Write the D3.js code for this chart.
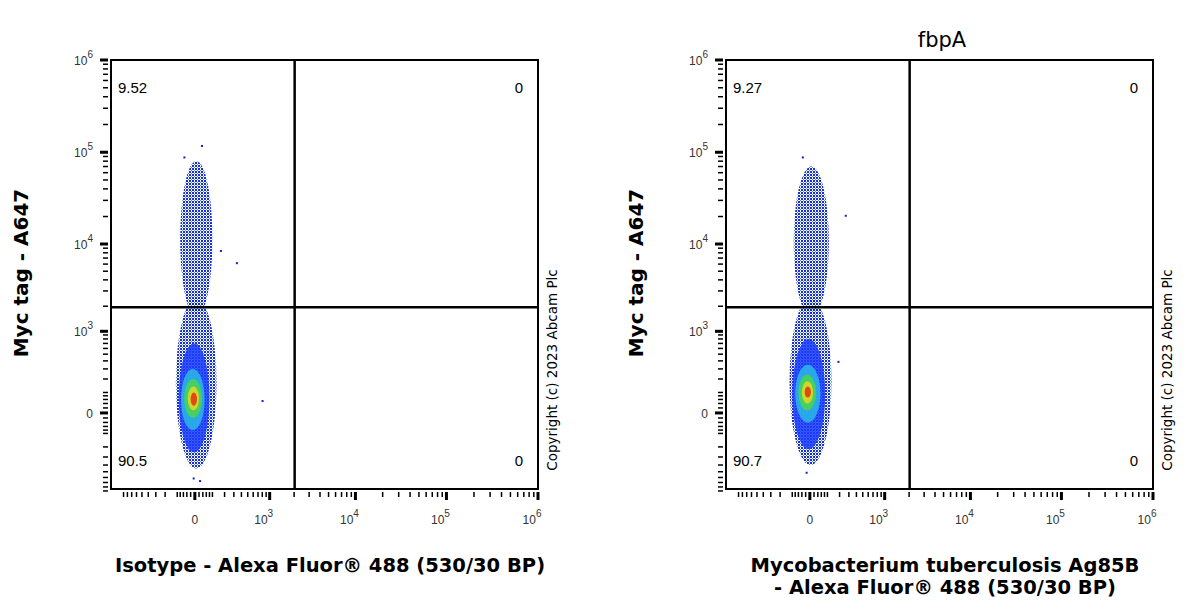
<!DOCTYPE html>
<html><head><meta charset="utf-8">
<script src="https://cdn.jsdelivr.net/npm/d3@7"></script>
<style>body{margin:0;background:#fff}text{font-family:"Liberation Sans",Arial,sans-serif}</style>
</head><body><svg id="c" width="1200" height="600"></svg>
<script>
// panel info
const titles = ['', 'fbpA']
const x_labels = [['Isotype - Alexa Fluor® 488 (530/30 BP)'],
                  ['Mycobacterium tuberculosis Ag85B', '- Alexa Fluor® 488 (530/30 BP)']]
const quad_values = [['9.52', '0', '90.5', '0'], ['9.27', '0', '90.7', '0']]
const x_gate = 2030
const y_gate = 1950
// density layers: [x_lo, x_hi, y_lo, y_hi, level]  (level 0 = sparse blue .. 5 = red)
const layers_left = [
    [-80, 100, 1500, 80000, 0],
    [-110, 130, -450, 2500, 0],
    [-90, 80, -250, 700, 1],
    [-75, 50, -80, 300, 2],
    [-55, 35, -20, 200, 3],
    [-35, 20, 10, 140, 4],
    [-20, 10, 30, 100, 5]
]
const layers_right = [
    [-90, 110, 1500, 70000, 0],
    [-120, 130, -400, 2500, 0],
    [-100, 85, -220, 800, 1],
    [-80, 55, -40, 350, 2],
    [-60, 30, 10, 240, 3],
    [-40, 15, 40, 180, 4],
    [-25, 5, 70, 140, 5]
]
const outliers_left = [[782, 57], [158, 8600], [325, 6300], [20, -650], [-10, -600], [-60, 90000], [30, 120000]]
const outliers_right = [[253, 20900], [180, 400], [-40, 90000], [-20, -500]]
const level_colors = ['url(#dots)', '#1a3cff', '#2ab8e6', '#4cd64c', '#e8d820', '#e23010']
const major_ticks = [0, 1e3, 1e4, 1e5, 1e6]

const svg = d3.select('#c')
const defs = svg.append('defs')
const pat = defs.append('pattern').attr('id', 'dots').attr('width', 3).attr('height', 3)
    .attr('patternUnits', 'userSpaceOnUse')
pat.append('rect').attr('width', 2).attr('height', 2).attr('fill', '#1020d0')
pat.append('rect').attr('x', 2).attr('y', 2).attr('width', 1).attr('height', 1).attr('fill', '#2a8af0')

const minor = []
for (let v = 100; v < 1000; v += 100) { minor.push(v, -v) }
for (let v = 20; v < 100; v += 20) { minor.push(v, -v) }
for (let d = 1e3; d < 1e6; d *= 10) for (let m = 2; m < 10; m++) minor.push(m * d)

function draw_panel(ox, p, layers, outliers) {
    const left = ox, right = ox + 427, top = 60, bottom = 489
    const x = d3.scaleSymlog().constant(180).domain([-1300, 1e6]).range([left, right])
    const y = d3.scaleSymlog().constant(150).domain([-850, 1e6]).range([bottom, top])
    const g = svg.append('g')

    g.selectAll('ellipse.l').data(layers).enter().append('ellipse')
        .attr('cx', d => (x(d[0]) + x(d[1])) / 2)
        .attr('cy', d => (y(d[2]) + y(d[3])) / 2)
        .attr('rx', d => (x(d[1]) - x(d[0])) / 2)
        .attr('ry', d => (y(d[2]) - y(d[3])) / 2)
        .attr('fill', d => level_colors[d[4]])
        .attr('opacity', d => d[4] == 0 ? 0.95 : 0.85)
    g.selectAll('rect.o').data(outliers).enter().append('rect')
        .attr('x', d => x(d[0])).attr('y', d => y(d[1])).attr('width', 2).attr('height', 2)
        .attr('fill', '#1020d0')

    g.append('rect').attr('x', left).attr('y', top).attr('width', 427).attr('height', 429)
        .attr('fill', 'none').attr('stroke', '#000').attr('stroke-width', 2)
    g.append('line').attr('x1', x(x_gate)).attr('x2', x(x_gate)).attr('y1', top).attr('y2', bottom)
        .attr('stroke', '#000').attr('stroke-width', 2.5)
    g.append('line').attr('x1', left).attr('x2', right).attr('y1', y(y_gate)).attr('y2', y(y_gate))
        .attr('stroke', '#000').attr('stroke-width', 2.5)

    // ticks
    g.selectAll('line.xm').data(minor).enter().append('line')
        .attr('x1', d => x(d)).attr('x2', d => x(d)).attr('y1', bottom + 3).attr('y2', bottom + 8)
        .attr('stroke', '#000').attr('stroke-width', 1.5)
    g.selectAll('line.xM').data(major_ticks).enter().append('line')
        .attr('x1', d => x(d)).attr('x2', d => x(d)).attr('y1', bottom + 3).attr('y2', bottom + 11)
        .attr('stroke', '#000').attr('stroke-width', 3)
    g.selectAll('line.ym').data(minor).enter().append('line')
        .attr('y1', d => y(d)).attr('y2', d => y(d)).attr('x1', left - 3).attr('x2', left - 8)
        .attr('stroke', '#000').attr('stroke-width', 1.5)
    g.selectAll('line.yM').data(major_ticks).enter().append('line')
        .attr('y1', d => y(d)).attr('y2', d => y(d)).attr('x1', left - 3).attr('x2', left - 11)
        .attr('stroke', '#000').attr('stroke-width', 3)

    function tick_label(sel, d) {
        if (d == 0) { sel.text('0'); return }
        sel.append('tspan').text('10')
        sel.append('tspan').attr('dy', -7).attr('font-size', 10).text(Math.round(Math.log10(d)))
    }
    g.selectAll('text.xt').data(major_ticks).enter().append('text')
        .attr('x', d => x(d) - (d == 0 ? 0 : 6)).attr('y', bottom + 35)
        .attr('font-size', 12).attr('text-anchor', 'middle').attr('fill', '#333')
        .each(function(d) { tick_label(d3.select(this), d) })
    g.selectAll('text.yt').data(major_ticks).enter().append('text')
        .attr('x', left - 18).attr('y', d => y(d) + 5)
        .attr('font-size', 12).attr('text-anchor', 'end').attr('fill', '#333')
        .each(function(d) { tick_label(d3.select(this), d) })

    // quadrant numbers
    const qpos = [[left + 7, 93, 'start'], [right - 15, 93, 'end'], [left + 7, 466, 'start'], [right - 15, 466, 'end']]
    quad_values[p].forEach((v, i) => {
        g.append('text').attr('x', qpos[i][0]).attr('y', qpos[i][1]).attr('text-anchor', qpos[i][2])
            .attr('font-size', 15).text(v)
    })

    g.append('text').attr('transform', `translate(${left - 83},273) rotate(-90)`)
        .attr('text-anchor', 'middle').attr('font-size', 20).attr('font-weight', 'bold')
        .style('font-family', 'DejaVu Sans').text('Myc tag - A647')
    g.append('text').attr('transform', `translate(${right + 19},370) rotate(-90)`)
        .attr('text-anchor', 'middle').attr('font-size', 13.5)
        .style('font-family', 'DejaVu Sans').text('Copyright (c) 2023 Abcam Plc')
    x_labels[p].forEach((t, i) => {
        g.append('text').attr('x', left + 219).attr('y', 572 + i * 22).attr('text-anchor', 'middle')
            .attr('font-size', 19.5).attr('font-weight', 'bold')
            .style('font-family', 'DejaVu Sans').text(t)
    })
    if (titles[p]) {
        g.append('text').attr('x', left + 216).attr('y', 47).attr('text-anchor', 'middle')
            .attr('font-size', 21).style('font-family', 'DejaVu Sans').text(titles[p])
    }
}

draw_panel(111, 0, layers_left, outliers_left)
draw_panel(726, 1, layers_right, outliers_right)
</script></body></html>
